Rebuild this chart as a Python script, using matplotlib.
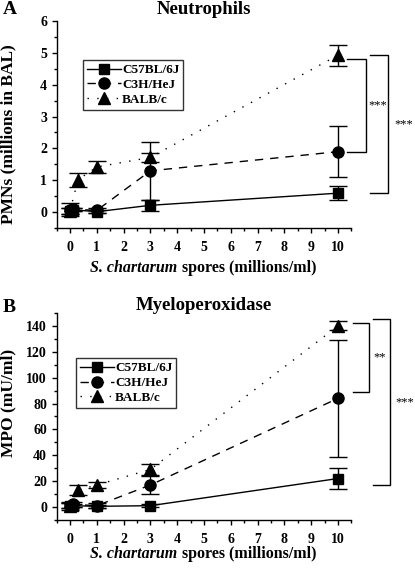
import matplotlib
matplotlib.use("Agg")
import matplotlib.pyplot as plt
from matplotlib.ticker import MultipleLocator
from matplotlib.lines import Line2D

plt.rcParams['font.family'] = ['Liberation Serif', 'DejaVu Serif']
plt.rcParams['font.weight'] = 'bold'

# ---------------- data ----------------
strains = ["C57BL/6J", "C3H/HeJ", "BALB/c"]
x_ticks = [0, 1, 2, 3, 4, 5, 6, 7, 8, 9, 10]

dose_c57 = [0, 0.1, 1, 3, 10]
dose_c3h = [0, 0.1, 1, 3, 10]
dose_balb = [0, 0.3, 1, 3, 10]

# Panel A: PMNs (millions in BAL)
pmn_c57 = [0.05, 0.08, 0.02, 0.22, 0.60]
pmn_c57_err = [0.10, 0.05, 0.05, 0.18, 0.22]
pmn_c3h = [0.08, 0.10, 0.06, 1.30, 1.90]
pmn_c3h_err = [0.20, 0.05, 0.08, 0.90, 0.80]
pmn_balb = [0.05, 1.02, 1.42, 1.72, 4.92]
pmn_balb_err = [0.10, 0.22, 0.18, 0.14, 0.33]

# Panel B: MPO (mU/ml)
mpo_c57 = [1, 1, 0.5, 1, 22]
mpo_c57_err = [2, 1, 1, 1, 8]
mpo_c3h = [1, 2, 1, 17, 84]
mpo_c3h_err = [3, 2, 2, 7, 45]
mpo_balb = [1, 13, 17, 29, 140]
mpo_balb_err = [2, 4, 2.5, 4.5, 3.5]

# significance brackets: (y_top, y_bottom, label)
sig_a = [(4.79, 1.88, "***"), (4.92, 0.59, "***")]
sig_b = [(142, 89, "**"), (145, 17, "***")]

W, H = 415, 569
fig = plt.figure(figsize=(W / 100, H / 100), dpi=100)

def px(x0, y0, x1, y1):
    return [x0 / W, 1 - y1 / H, (x1 - x0) / W, (y1 - y0) / H]

axA = fig.add_axes(px(56.6, 20.7, 351.4, 228.3))
axB = fig.add_axes(px(56.6, 313.0, 351.4, 519.9))

styles = [
    dict(marker='s', ms=6.8, linestyle='-'),
    dict(marker='o', ms=8, linestyle=(0, (6, 5))),
    dict(marker='^', ms=8.5, linestyle=(0, (1, 6))),
]

def draw(ax, doses, ys, errs):
    for d, y, e, st in zip(doses, ys, errs, styles):
        ax.errorbar(d, y, yerr=e, color='black', lw=1.0, elinewidth=1.0,
                    capsize=6.3, capthick=1.0, mfc='black', mec='black',
                    clip_on=False, **st)

def style_axes(ax):
    for s in ['top', 'right']:
        ax.spines[s].set_visible(False)
    for s in ['left', 'bottom']:
        ax.spines[s].set_linewidth(1.0)
    ax.set_xlim(-0.5, 10.5)
    ax.set_xticks(x_ticks)
    ax.set_xticklabels([str(t) for t in x_ticks])
    ax.xaxis.set_minor_locator(MultipleLocator(0.5))
    ax.tick_params(which='major', direction='out', length=3.5, width=1.0,
                   labelsize=10)
    ax.tick_params(axis='x', which='major', pad=6)
    ax.tick_params(axis='y', which='major', pad=3.5)
    ax.tick_params(which='minor', direction='out', length=2.2, width=1.0)
    for lab in ax.get_xticklabels() + ax.get_yticklabels():
        lab.set_fontweight('bold')

doses = [dose_c57, dose_c3h, dose_balb]
draw(axA, doses, [pmn_c57, pmn_c3h, pmn_balb], [pmn_c57_err, pmn_c3h_err, pmn_balb_err])
draw(axB, doses, [mpo_c57, mpo_c3h, mpo_balb], [mpo_c57_err, mpo_c3h_err, mpo_balb_err])

axA.set_ylim(-0.5, 6)
axA.set_yticks([0, 1, 2, 3, 4, 5, 6])
axA.yaxis.set_minor_locator(MultipleLocator(0.5))
axB.set_ylim(-10, 150)
axB.set_yticks([0, 20, 40, 60, 80, 100, 120, 140])
axB.yaxis.set_minor_locator(MultipleLocator(10))
style_axes(axA)
style_axes(axB)

def legend(ax, loc_xy):
    handles = [Line2D([0], [0], color='black', lw=1.0, mfc='black', mec='black', **st)
               for st in styles]
    leg = ax.legend(handles, strains, loc='upper left', bbox_to_anchor=loc_xy,
                    frameon=True, fancybox=False, edgecolor='black',
                    prop=dict(family='Liberation Serif', weight='bold', size=9.5),
                    handlelength=2.6, handletextpad=0.05, borderpad=0.3,
                    labelspacing=0.2, borderaxespad=0)
    leg.get_frame().set_linewidth(1.0)

legend(axA, (0.0896, 0.811))
legend(axB, (0.066, 0.782))

def brackets(ax, sigs, spans):
    for (yt, yb, lab), (xl, xr, xt) in zip(sigs, spans):
        ax.plot([xl, xr, xr, xl], [yt, yt, yb, yb], color='black', lw=1.0,
                clip_on=False, solid_joinstyle='miter')
        ax.text(xt, (yt + yb) / 2, lab, ha='center', va='center',
                fontsize=9, fontweight='normal', clip_on=False)

brackets(axA, sig_a, [(10.32, 11.04, 11.47), (11.19, 11.88, 12.44)])
brackets(axB, sig_b, [(10.55, 11.17, 11.55), (11.29, 11.94, 12.48)])

# titles and labels
fig.text(3 / W, 1 - 10 / H, "A", fontsize=14, fontweight='bold', va='center', ha='left')
fig.text(204 / W, 1 - 10 / H, "Neutrophils", fontsize=13.5, fontweight='bold',
         va='center', ha='center')
fig.text(3 / W, 1 - 307 / H, "B", fontsize=14, fontweight='bold', va='center', ha='left')
fig.text(204 / W, 1 - 306 / H, "Myeloperoxidase", fontsize=13.5, fontweight='bold',
         va='center', ha='center')

fig.text(8.5 / W, 1 - 134 / H, "PMNs (millions in BAL)", fontsize=12.5, fontweight='bold',
         rotation=90, va='center', ha='center')
fig.text(8.5 / W, 1 - 403 / H, "MPO (mU/ml)", fontsize=12.5, fontweight='bold',
         rotation=90, va='center', ha='center')

renderer = fig.canvas.get_renderer()
for yy in (267.5, 554.0):
    full = fig.text(205 / W, 1 - yy / H, "S. chartarum spores (millions/ml)", fontsize=11.5,
                    fontweight='bold', va='center', ha='center')
    bb = full.get_window_extent(renderer=renderer)
    full.remove()
    ta = fig.text(bb.x0 / fig.bbox.width, 1 - yy / H, "S. chartarum", fontsize=11.5,
                  fontweight='bold', fontstyle='italic', va='center', ha='left')
    bba = ta.get_window_extent(renderer=renderer)
    fig.text(bba.x1 / fig.bbox.width, 1 - yy / H, " spores (millions/ml)", fontsize=11.5,
             fontweight='bold', va='center', ha='left')

fig.savefig("out.png", dpi=100)
